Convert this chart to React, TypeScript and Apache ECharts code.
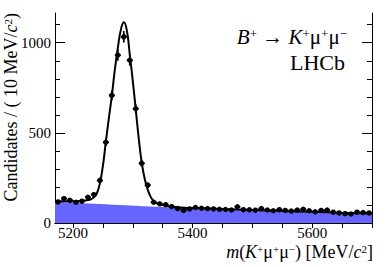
import React, { useEffect, useRef } from "react";
import * as echarts from "echarts";

const binCenters = [
  5175, 5185, 5195, 5205, 5215, 5225, 5235, 5245, 5255, 5265, 5275, 5285, 5295, 5305, 5315, 5325, 5335, 5345,
  5355, 5365, 5375, 5385, 5395, 5405, 5415, 5425, 5435, 5445, 5455, 5465, 5475, 5485, 5495, 5505, 5515, 5525,
  5535, 5545, 5555, 5565, 5575, 5585, 5595, 5605, 5615, 5625, 5635, 5645, 5655, 5665, 5675, 5685, 5695,
];
const counts = [
  117, 136, 126, 115, 121, 143, 158, 236, 448, 708, 931, 1033, 903, 634, 331, 210, 115, 106,
  102, 91, 80, 70, 78, 86, 82, 80, 78, 76, 75, 72, 90, 74, 73, 71, 80, 72,
  68, 74, 70, 66, 72, 76, 68, 62, 70, 72, 60, 56, 52, 50, 60, 58, 56,
];
const fitMass = [
  5170, 5180, 5190, 5200, 5210, 5220, 5230, 5235, 5240, 5245, 5250, 5255, 5260, 5265, 5270, 5275, 5280, 5285,
  5290, 5295, 5300, 5305, 5310, 5315, 5320, 5325, 5330, 5335, 5340, 5350, 5360, 5380, 5400, 5450, 5500, 5550,
  5600, 5650, 5700,
];
const fitValues = [
  121, 121, 121, 121, 122, 125, 132, 143, 165, 220, 315, 450, 580, 705, 850, 970, 1070, 1113,
  1070, 935, 790, 630, 470, 335, 245, 185, 145, 122, 110, 99, 93, 86, 83, 77, 72, 66.5,
  62, 57, 53,
];
const bgMass = [5170, 5220, 5280, 5340, 5400, 5450, 5500, 5550, 5600, 5650, 5700];
const bgValues = [118, 110, 100, 90, 83, 77, 72, 66.5, 62, 57, 53];

const xLabelValues = [5200, 5400, 5600];
const xTickValues = [5200, 5250, 5300, 5350, 5400, 5450, 5500, 5550, 5600, 5650, 5700];
const yLabelValues = [0, 500, 1000];
const yMinorValues = [100, 200, 300, 400, 600, 700, 800, 900, 1100];

const SERIF = "Liberation Serif";

export default function App() {
  const ref = useRef<HTMLDivElement>(null);
  useEffect(() => {
    document.body.style.margin = "0";
    const chart = echarts.init(ref.current!, null, { renderer: "svg" });
    const xMin = 5170, xMax = 5700, yMin = 0, yMax = 1165;
    const richBase = (size: number) => ({
      n: { fontFamily: SERIF, fontSize: size, color: "#000", lineHeight: size },
      i: { fontFamily: SERIF, fontSize: size, fontStyle: "italic", color: "#000", lineHeight: size },
      s: { fontFamily: SERIF, fontSize: Math.round(size * 0.62), color: "#000", verticalAlign: "top" },
    });
    const baseX = (extra: any) => ({
      type: "value", min: xMin, max: xMax, splitLine: { show: false }, ...extra,
    });
    const baseY = (extra: any) => ({
      type: "value", min: yMin, max: yMax, splitLine: { show: false }, ...extra,
    });
    const fmt = (v: number) => String(v);
    const labelStyle = { fontFamily: SERIF, fontSize: 15, color: "#000", lineHeight: 12 };
    const option: any = {
      animation: false,
      textStyle: { fontFamily: SERIF },
      grid: { left: 55, right: 20, top: 13, bottom: 44, containLabel: false },
      xAxis: [
        baseX({
          position: "bottom",
          axisLine: { show: true, lineStyle: { color: "#000", width: 1 } },
          axisTick: { show: true, inside: true, length: 7, customValues: xLabelValues, lineStyle: { color: "#000" } },
          axisLabel: { show: true, customValues: xLabelValues, formatter: fmt, margin: 4, ...labelStyle },
        }),
        baseX({
          position: "bottom",
          axisLine: { show: false },
          axisTick: { show: true, inside: true, length: 5, customValues: xTickValues, lineStyle: { color: "#000" } },
          axisLabel: { show: false },
        }),
        baseX({
          position: "top",
          axisLine: { show: true, lineStyle: { color: "#000", width: 1 } },
          axisTick: { show: true, inside: true, length: 5, customValues: xTickValues, lineStyle: { color: "#000" } },
          axisLabel: { show: false },
        }),
      ],
      yAxis: [
        baseY({
          position: "left",
          axisLine: { show: true, lineStyle: { color: "#000", width: 1 } },
          axisTick: { show: true, inside: true, length: 10, customValues: yLabelValues, lineStyle: { color: "#000" } },
          axisLabel: { show: true, customValues: yLabelValues, formatter: fmt, margin: 4, ...labelStyle },
        }),
        baseY({
          position: "left",
          axisLine: { show: false },
          axisTick: { show: true, inside: true, length: 5, customValues: yMinorValues, lineStyle: { color: "#000" } },
          axisLabel: { show: false },
        }),
        baseY({
          position: "right",
          axisLine: { show: true, lineStyle: { color: "#000", width: 1 } },
          axisTick: { show: true, inside: true, length: 10, customValues: yLabelValues, lineStyle: { color: "#000" } },
          axisLabel: { show: false },
        }),
        baseY({
          position: "right",
          axisLine: { show: false },
          axisTick: { show: true, inside: true, length: 5, customValues: yMinorValues, lineStyle: { color: "#000" } },
          axisLabel: { show: false },
        }),
      ],
      series: [
        {
          type: "line",
          xAxisIndex: 0,
          yAxisIndex: 0,
          data: bgMass.map((m, i) => [m, bgValues[i]]),
          smooth: true,
          showSymbol: false,
          lineStyle: { width: 0 },
          areaStyle: { color: "#6666ff", opacity: 1 },
          z: 1,
        },
        {
          type: "line",
          xAxisIndex: 0,
          yAxisIndex: 0,
          data: fitMass.map((m, i) => [m, fitValues[i]]),
          smooth: true,
          showSymbol: false,
          lineStyle: { width: 2, color: "#000" },
          z: 2,
        },
        {
          type: "custom",
          xAxisIndex: 0,
          yAxisIndex: 0,
          data: binCenters.map((m, i) => [m, counts[i]]),
          z: 3,
          renderItem: (params: any, api: any) => {
            const x = api.value(0);
            const y = api.value(1);
            const e = Math.sqrt(y);
            const c = api.coord([x, y]);
            const l = api.coord([x - 5, y]);
            const r = api.coord([x + 5, y]);
            const t = api.coord([x, y + e]);
            const b = api.coord([x, y - e]);
            const st = { stroke: "#000", lineWidth: 1.7 };
            return {
              type: "group",
              children: [
                { type: "line", shape: { x1: l[0], y1: l[1], x2: r[0], y2: r[1] }, style: st },
                { type: "line", shape: { x1: t[0], y1: t[1], x2: b[0], y2: b[1] }, style: st },
                { type: "circle", shape: { cx: c[0], cy: c[1], r: 2.7 }, style: { fill: "#000" } },
              ],
            };
          },
        },
      ],
      graphic: [
        {
          type: "text",
          x: 11,
          y: 13,
          rotation: Math.PI / 2,
          style: {
            text: "{n|Candidates / ( 10 MeV/}{i|c}{s|2}{n|)}",
            rich: richBase(18),
            align: "right",
            verticalAlign: "middle",
          },
        },
        {
          type: "text",
          x: 373,
          y: 252,
          style: {
            text: "{i|m}{n|(}{i|K}{s|+}{n|μ}{s|+}{n|μ}{s|−}{n|) [MeV/}{i|c}{s|2}{n|]}",
            rich: richBase(18),
            align: "right",
            verticalAlign: "middle",
          },
        },
        {
          type: "text",
          x: 347,
          y: 37,
          style: {
            text: "{i|B}{s|+}{n| → }{i|K}{s|+}{n|μ}{s|+}{n|μ}{s|−}",
            rich: richBase(21),
            align: "right",
            verticalAlign: "middle",
          },
        },
        {
          type: "text",
          x: 345,
          y: 62,
          style: {
            text: "LHCb",
            fontFamily: SERIF,
            fontSize: 22,
            fill: "#000",
            align: "right",
            verticalAlign: "middle",
          },
        },
      ],
    };
    chart.setOption(option);
    return () => chart.dispose();
  }, []);
  return <div ref={ref} style={{ width: 392, height: 267, position: "absolute", left: 0, top: 0 }} />;
}
